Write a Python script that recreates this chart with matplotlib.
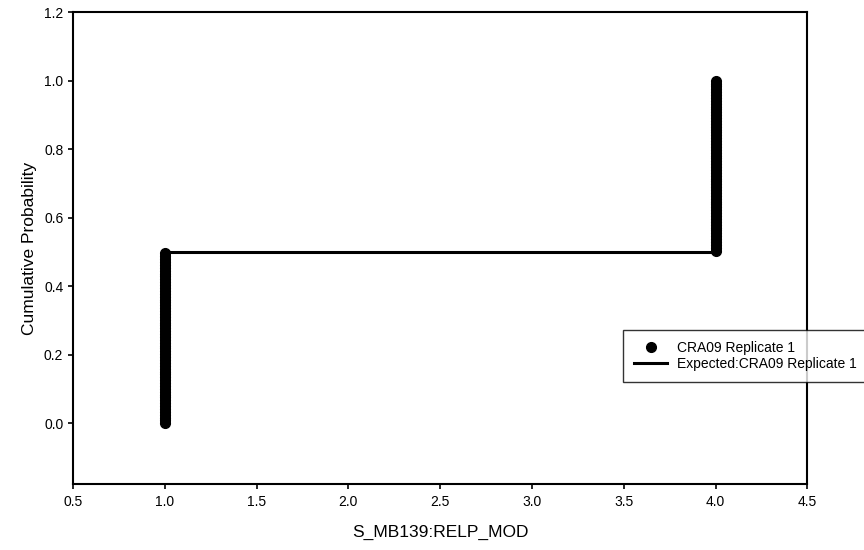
import numpy as np
import matplotlib.pyplot as plt

plt.rcParams['font.family'] = ['Liberation Sans', 'DejaVu Sans']

# observed sample: distinct values and how many times each occurs
obs_values = [1.0, 4.0]
obs_counts = [60, 60]

x_ticks = [0.5, 1.0, 1.5, 2.0, 2.5, 3.0, 3.5, 4.0, 4.5]
y_ticks = [0.0, 0.2, 0.4, 0.6, 0.8, 1.0, 1.2]

# empirical cumulative probability of the sorted sample
sample = np.repeat(obs_values, obs_counts)
n = len(sample)
cum_prob = np.arange(n) / (n - 1)

# expected step cdf
step_x = [obs_values[0], obs_values[0], obs_values[1], obs_values[1]]
frac = obs_counts[0] / sum(obs_counts)
step_y = [0.0, frac, frac, 1.0]

fig = plt.figure(figsize=(8.64, 5.5), dpi=100)
ax = fig.add_axes([0.0845, 0.12, 0.85, 0.858])

ax.plot(sample, cum_prob, 'o', color='black', markersize=7, label='CRA09 Replicate 1')
ax.plot(step_x, step_y, '-', color='black', linewidth=2.2, label='Expected:CRA09 Replicate 1')

ax.set_xlim(0.5, 4.5)
ax.set_ylim(-0.177, 1.2)
ax.set_xticks(x_ticks)
ax.set_yticks(y_ticks)
ax.set_xticklabels(['%.1f' % v for v in x_ticks])
ax.set_yticklabels(['%.1f' % v for v in y_ticks])
ax.tick_params(direction='out', length=3.5, width=1.2, labelsize=10)
ax.tick_params(axis='x', pad=4.5)
ax.tick_params(axis='y', pad=3.5)
for s in ax.spines.values():
    s.set_linewidth(1.5)

ax.set_xlabel('S_MB139:RELP_MOD', fontsize=12.5, labelpad=11)
ax.set_ylabel('Cumulative Probability', fontsize=12.5, labelpad=5)

leg = ax.legend(loc='upper left', bbox_to_anchor=(0.7211, 0.4), bbox_transform=fig.transFigure,
                fontsize=10, frameon=True, fancybox=False, borderpad=0.8, handlelength=2.4,
                labelspacing=0.15, handletextpad=0.65, borderaxespad=0)
leg.get_frame().set_edgecolor('black')
leg.get_frame().set_linewidth(1.0)

fig.savefig('out.png', dpi=100)
